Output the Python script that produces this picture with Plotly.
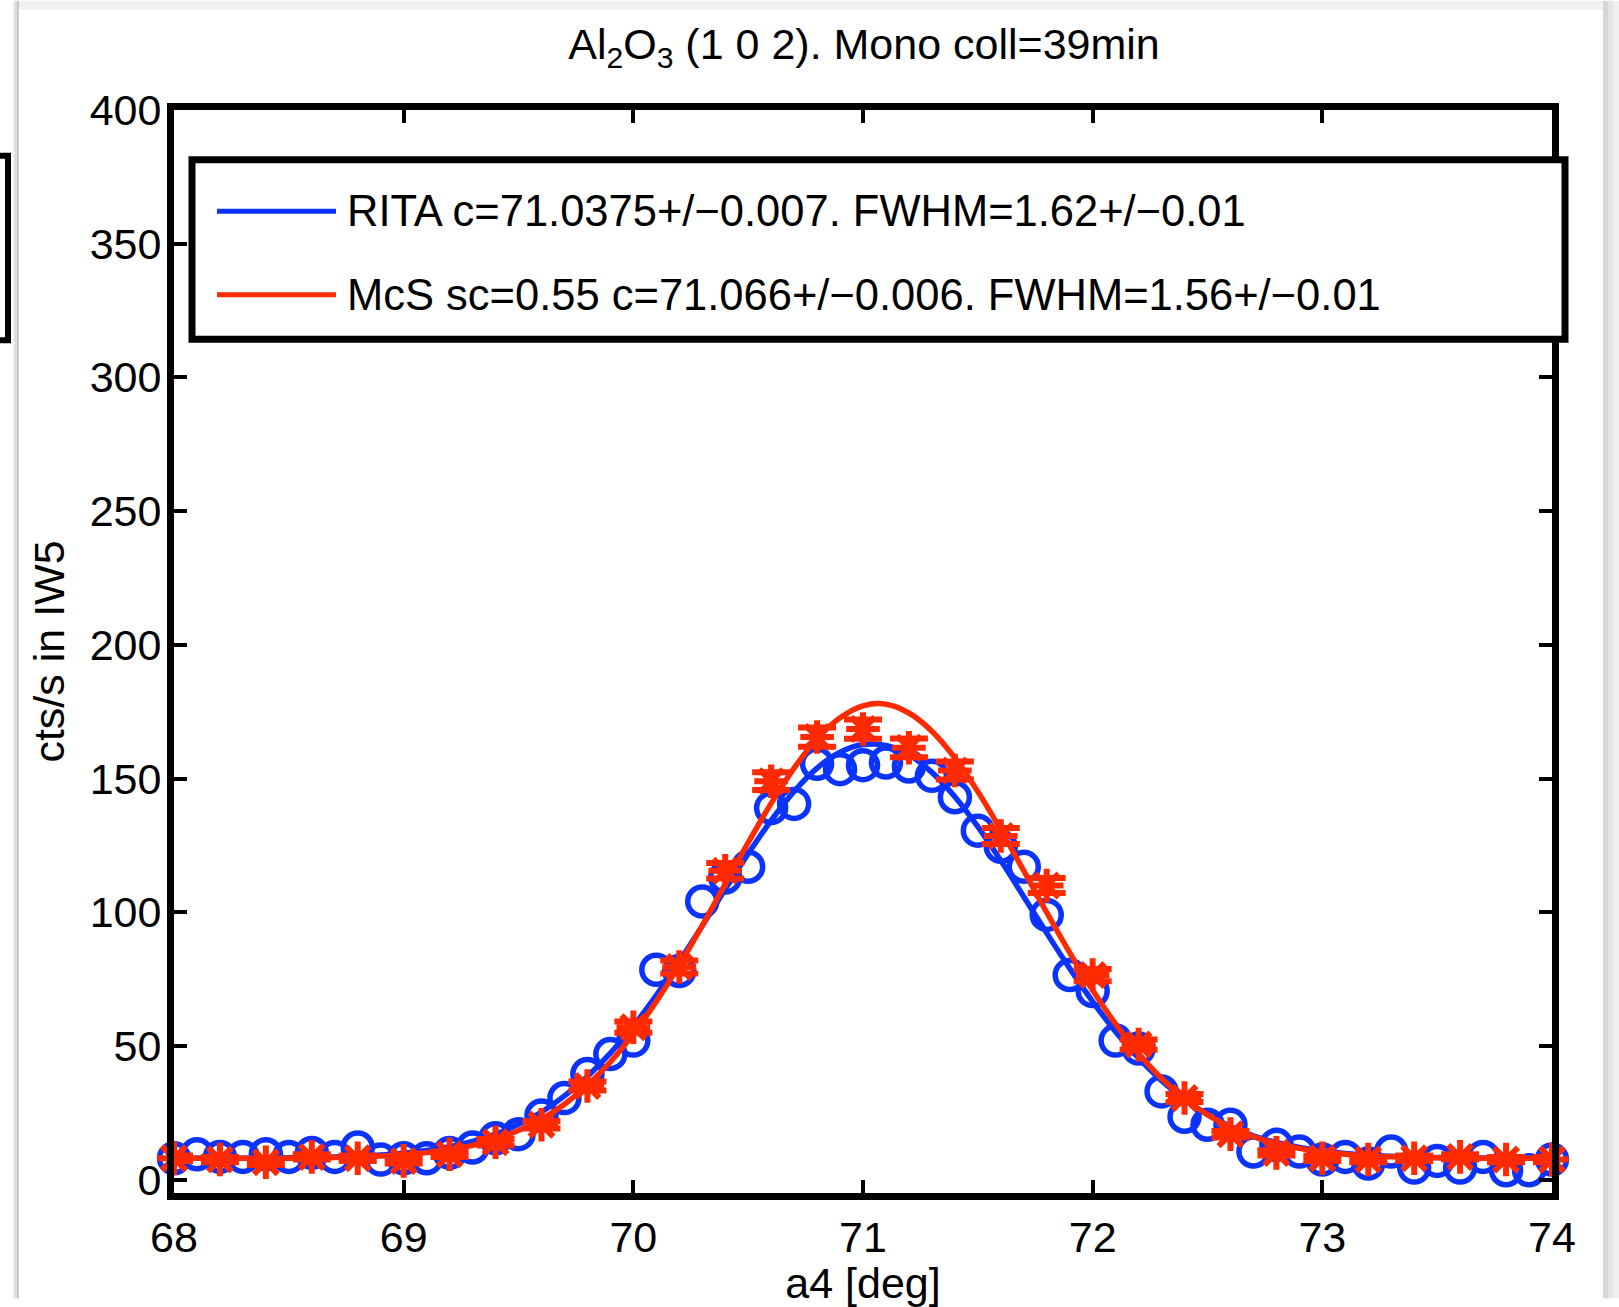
"""Al2O3 (1 0 2) a4 scan: RITA data vs McStas simulation."""

import plotly.graph_objects as go

# Colors (MATLAB-ish)
BLUE = "#0A33FF"
RED = "#FF2A00"
FONT = "Liberation Sans, Arial, Helvetica, sans-serif"

# RITA measured points (0.1 deg steps)
rita_a4 = [round(68.0 + 0.1 * i, 1) for i in range(61)]
rita_cts = [
    8.0, 9.5, 8.5, 8.5, 9.5, 8.5, 10.0, 8.5, 12.0, 7.5,
    8.0, 8.0, 10.0, 12.0, 15.5, 17.0, 24.0, 30.5, 39.5, 47.0,
    52.0, 78.5, 78.0, 104.0, 113.0, 117.0, 139.0, 140.5, 155.5, 153.5,
    155.0, 156.0, 154.5, 151.0, 143.0, 130.5, 124.5, 117.0, 99.0, 76.5,
    70.5, 52.0, 49.0, 33.0, 23.5, 20.5, 20.5, 10.5, 13.0, 10.5,
    7.5, 8.5, 6.0, 10.5, 4.5, 7.0, 4.5, 8.5, 3.5, 3.5,
    7.5,
]

# McStas simulated points (0.2 deg steps), scaled
mcs_a4 = [round(68.0 + 0.2 * i, 1) for i in range(31)]
mcs_cts = [
    8.0, 7.5, 6.5, 8.5, 8.0, 7.0, 9.5, 14.0, 20.5, 35.0,
    57.0, 79.5, 115.5, 149.0, 165.5, 168.5, 161.5, 153.0, 128.5, 110.0,
    76.5, 50.5, 30.5, 17.0, 10.0, 8.0, 7.5, 8.0, 8.5, 7.5,
    7.5,
]
mcs_err = [
    1.0, 1.0, 1.0, 1.0, 1.0, 1.0, 1.0, 1.2, 1.4, 1.7,
    2.1, 2.4, 2.9, 3.3, 3.6, 3.6, 3.5, 3.4, 3.0, 2.8,
    2.3, 1.9, 1.5, 1.2, 1.0, 1.0, 1.0, 1.0, 1.0, 1.0,
    1.0,
]

# Fit curves at 0.1 deg steps
fit_a4 = rita_a4
rita_fit = [
    8.0, 8.0, 8.0, 8.0, 8.1, 8.2, 8.3, 8.5, 8.8, 9.2,
    9.9, 10.9, 12.3, 14.3, 17.0, 20.7, 25.3, 31.3, 38.6, 47.3,
    57.4, 68.9, 81.6, 94.9, 108.6, 121.9, 134.3, 145.2, 153.9, 159.8,
    162.7, 162.4, 158.9, 152.3, 143.2, 132.0, 119.3, 105.8, 92.2, 79.0,
    66.6, 55.3, 45.4, 37.0, 30.0, 24.3, 19.9, 16.4, 13.9, 12.0,
    10.7, 9.8, 9.1, 8.7, 8.4, 8.3, 8.1, 8.1, 8.0, 8.0,
    8.0,
]
mcs_fit = [
    8.0, 8.0, 8.0, 8.0, 8.0, 8.0, 8.1, 8.3, 8.5, 8.8,
    9.3, 10.1, 11.2, 12.8, 15.2, 18.4, 22.6, 28.2, 35.3, 44.0,
    54.5, 66.6, 80.2, 95.0, 110.5, 126.0, 140.7, 153.9, 164.8, 172.7,
    177.2, 177.8, 174.5, 167.7, 157.7, 145.1, 130.8, 115.5, 99.9, 84.9,
    70.8, 58.2, 47.2, 37.9, 30.3, 24.3, 19.6, 16.1, 13.5, 11.7,
    10.4, 9.5, 8.9, 8.6, 8.3, 8.2, 8.1, 8.0, 8.0, 8.0,
    8.0,
]

legend_labels = [
    "RITA c=71.0375+/\u22120.007. FWHM=1.62+/\u22120.01",
    "McS sc=0.55 c=71.066+/\u22120.006. FWHM=1.56+/\u22120.01",
]

W, H = 1619, 1307
L, R, T, B = 174, 67, 110, 106
PW, PH = W - L - R, H - T - B
FS = 43


def px(x):
    """Pixel x -> paper x."""
    return (x - L) / PW


def py(y):
    """Pixel y (from top) -> paper y."""
    return (H - B - y) / PH


fig = go.Figure()

fig.add_trace(go.Scatter(
    x=rita_a4, y=rita_cts, mode="markers", cliponaxis=False,
    marker=dict(symbol="circle-open", size=29, color=BLUE, line=dict(width=5.5, color=BLUE)),
    showlegend=False,
))
fig.add_trace(go.Scatter(
    x=fit_a4, y=rita_fit, mode="lines", line=dict(color=BLUE, width=5.5, shape="spline"),
    showlegend=False,
))
fig.add_trace(go.Scatter(
    x=mcs_a4, y=mcs_cts, mode="markers", cliponaxis=False,
    marker=dict(symbol="asterisk-open", size=28, color=RED, line=dict(width=6, color=RED)),
    error_y=dict(type="data", array=mcs_err, color=RED, thickness=6, width=19),
    showlegend=False,
))
fig.add_trace(go.Scatter(
    x=fit_a4, y=mcs_fit, mode="lines", line=dict(color=RED, width=5.5, shape="spline"),
    showlegend=False,
))

shapes = []
# window shadow edges
for x0, x1, c in [(13, 15, "#ececec"), (15, 17, "#dadada"), (17, 19, "#c8c8c8"),
                  (1603, 1608, "#d6d6d6"), (1608, 1613, "#e4e4e4"), (1613, 1619, "#efefef")]:
    shapes.append(dict(type="rect", xref="paper", yref="paper", x0=px(x0), x1=px(x1),
                       y0=py(H), y1=py(0), fillcolor=c, line=dict(width=0), layer="below"))
shapes.append(dict(type="rect", xref="paper", yref="paper", x0=px(19), x1=px(1603),
                   y0=py(9), y1=py(0), fillcolor="#f0f0f0", line=dict(width=0), layer="below"))
# partial box of a neighbouring window
shapes.append(dict(type="rect", xref="paper", yref="paper", x0=px(-30), x1=px(8),
                   y0=py(342), y1=py(156), line=dict(color="black", width=6)))

# legend box
shapes.append(dict(type="rect", xref="paper", yref="paper", x0=px(192), x1=px(1565),
                   y0=py(341), y1=py(160), fillcolor="white", line=dict(color="black", width=7)))
annotations = []
for yy, col, lab in [(212, BLUE, legend_labels[0]), (296, RED, legend_labels[1])]:
    shapes.append(dict(type="line", xref="paper", yref="paper", x0=px(217), x1=px(336),
                       y0=py(yy), y1=py(yy), line=dict(color=col, width=5)))
    annotations.append(dict(xref="paper", yref="paper", x=px(345), y=py(yy), text=lab,
                            showarrow=False, xanchor="left", yanchor="middle",
                            font=dict(family=FONT, size=43.5, color="black")))

fig.update_layout(
    width=W, height=H,
    margin=dict(l=L, r=R, t=T, b=B),
    paper_bgcolor="white", plot_bgcolor="white",
    font=dict(family=FONT, size=FS, color="black"),
    title=dict(text="Al<sub>2</sub>O<sub>3</sub> (1 0 2). Mono coll=39min",
               xref="paper", x=px(864), xanchor="center",
               yref="container", y=1 - 44 / H, yanchor="middle",
               font=dict(family=FONT, size=FS)),
    shapes=shapes, annotations=annotations,
)
fig.update_xaxes(
    range=[68, 74], tickvals=[68, 69, 70, 71, 72, 73, 74],
    showline=True, linecolor="black", linewidth=7, mirror="allticks",
    ticks="inside", ticklen=13, tickwidth=4, tickcolor="black",
    showgrid=False, zeroline=False, tickfont=dict(size=FS),
    title=dict(text="a4 [deg]", standoff=4, font=dict(size=FS)),
)
fig.update_yaxes(
    range=[-5, 400], tickvals=[0, 50, 100, 150, 200, 250, 300, 350, 400],
    showline=True, linecolor="black", linewidth=7, mirror="allticks",
    ticks="inside", ticklen=13, tickwidth=4, tickcolor="black",
    showgrid=False, zeroline=False, tickfont=dict(size=FS),
    ticklabelstandoff=-3,
    title=dict(text="cts/s in IW5", standoff=14, font=dict(size=FS)),
)

# drop the default 8px body margin so the figure sits at the window origin
fig.write_html("out.html", config={"displayModeBar": False},
               post_script="document.body.style.margin='0';")
